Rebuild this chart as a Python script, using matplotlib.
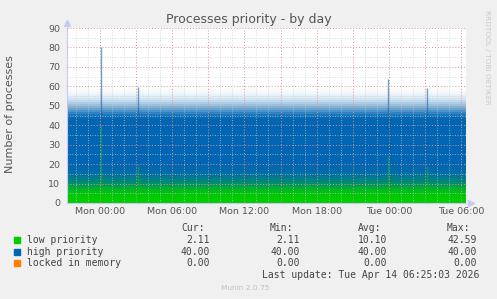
# -*- coding: utf-8 -*-

import numpy as np
import matplotlib.pyplot as plt
from matplotlib.patches import Rectangle

# hours relative to Mon 00:00
t_start = -2.75
t_end = 30.42
tick_hours = [0, 6, 12, 18, 24, 30]
tick_labels = ['Mon 00:00', 'Mon 06:00', 'Mon 12:00', 'Mon 18:00', 'Tue 00:00', 'Tue 06:00']

# low priority jumps around all day: level -> share of time above that level
low_levels = [2.11, 3, 4, 5, 6, 7, 8, 9, 10, 11, 12, 13, 14, 15, 16, 17, 18, 19, 20]
low_share = [1.0, 0.99, 0.97, 0.93, 0.86, 0.76, 0.65, 0.55, 0.45, 0.36, 0.28,
             0.21, 0.15, 0.1, 0.07, 0.04, 0.02, 0.01, 0.0]
high_value = 40.0

# short spikes of low priority processes
spike_hours = [0.05, 3.15, 23.97, 27.18]
spike_low = [40.0, 19.5, 24.0, 19.0]

series = ['low priority', 'high priority', 'locked in memory']
colors = ['#00cc00', '#0066b3', '#ff8000']
cur = ['2.11', '40.00', '0.00']
mins = ['2.11', '40.00', '0.00']
avgs = ['10.10', '40.00', '0.00']
maxs = ['42.59', '40.00', '0.00']

fig = plt.figure(figsize=(4.97, 2.99), dpi=100)
fig.patch.set_facecolor('#f0f0f0')
ax = fig.add_axes([67/497, 1-203/299, 399/497, 175/299])
ax.set_facecolor('white')

green, blue = colors[0], colors[1]
xs = [t_start, t_end]

# solid parts of the stack
ax.fill_between(xs, 0, low_levels[0], color=green, lw=0)
ax.fill_between(xs, low_levels[0], low_levels[0] + high_value, color=blue, lw=0)

# fuzzy edges: green mixed into blue, blue mixed into white
for i in range(len(low_levels) - 1):
    p = (low_share[i] + low_share[i+1]) / 2
    y0, y1 = low_levels[i], low_levels[i+1]
    ax.fill_between(xs, y0, y1, color=green, alpha=p, lw=0)
    ax.fill_between(xs, y0 + high_value, y1 + high_value, color=blue, alpha=p, lw=0)

# spikes
ax.vlines(spike_hours, 0, spike_low, color=green, lw=1.0, alpha=0.5)
ax.vlines(spike_hours, spike_low, np.array(spike_low) + high_value, color=blue, lw=1.0, alpha=0.6)

ax.set_xlim(t_start, t_end)
ax.set_ylim(0, 90)

ax.set_xticks(tick_hours)
ax.set_xticklabels(tick_labels)
ax.set_yticks(np.arange(0, 91, 10))
ax.tick_params(axis='both', which='both', length=0, labelsize=6.8, labelcolor='#555555')
ax.tick_params(axis='y', pad=5)
ax.tick_params(axis='x', pad=3)

# grid on top of the areas like rrdtool does
for v in np.arange(-2, 31, 1):
    if v % 3 == 0:
        ax.axvline(v, color='#e09090', lw=0.7, ls=(0, (1, 2)), zorder=3)
    else:
        ax.axvline(v, color='#cccccc', lw=0.6, ls=(0, (1, 2)), alpha=0.9, zorder=3)
for v in np.arange(5, 91, 5):
    if v % 10 == 0:
        ax.axhline(v, color='#e09090', lw=0.7, ls=(0, (1, 2)), zorder=3)
    else:
        ax.axhline(v, color='#cccccc', lw=0.6, ls=(0, (1, 2)), alpha=0.9, zorder=3)

for s in ['top', 'right']:
    ax.spines[s].set_visible(False)
for s in ['left', 'bottom']:
    ax.spines[s].set_color('#c8c8f0')
    ax.spines[s].set_linewidth(0.8)
ax.plot([0], [1.03], marker='^', ms=4, color='#c8c8f0', transform=ax.transAxes, clip_on=False)
ax.plot([1.013], [0], marker='>', ms=4, color='#c8c8f0', transform=ax.transAxes, clip_on=False)

fig.text(0.5, 1-19/299, 'Processes priority - by day', ha='center', va='center',
         fontsize=9, color='#555555')
fig.text(10/497, 1-114/299, 'Number of processes', rotation=90, ha='center', va='center',
         fontsize=8, color='#555555')
fig.text(487/497, 1-57/299, 'RRDTOOL / TOBI OETIKER', rotation=270, ha='center', va='center',
         fontsize=5.3, color='#c8c8c8')

# legend block
mono = 'DejaVu Sans Mono'
tc = '#444444'
fs = 7
fig.text(181/497, 1-228/299, 'Cur:', family=mono, fontsize=fs, color=tc, va='center')
fig.text(270/497, 1-228/299, 'Min:', family=mono, fontsize=fs, color=tc, va='center')
fig.text(358/497, 1-228/299, 'Avg:', family=mono, fontsize=fs, color=tc, va='center')
fig.text(447/497, 1-228/299, 'Max:', family=mono, fontsize=fs, color=tc, va='center')
rows_y = [240, 252, 263]
for i in range(3):
    y = 1 - rows_y[i]/299
    fig.patches.append(Rectangle((14/497, y - 3/299), 6/497, 6/299, color=colors[i],
                                 transform=fig.transFigure, figure=fig))
    fig.text(27/497, y, series[i], family=mono, fontsize=fs, color=tc, va='center')
    fig.text(210/497, y, cur[i], family=mono, fontsize=fs, color=tc, va='center', ha='right')
    fig.text(300/497, y, mins[i], family=mono, fontsize=fs, color=tc, va='center', ha='right')
    fig.text(387/497, y, avgs[i], family=mono, fontsize=fs, color=tc, va='center', ha='right')
    fig.text(477/497, y, maxs[i], family=mono, fontsize=fs, color=tc, va='center', ha='right')

fig.text(262/497, 1-275/299, 'Last update: Tue Apr 14 06:25:03 2026', family=mono,
         fontsize=fs, color=tc, va='center')
fig.text(245/497, 1-288/299, 'Munin 2.0.75', ha='center', va='center', fontsize=5.3,
         color='#c0c0c0')

plt.savefig('out.png', dpi=100, facecolor=fig.get_facecolor())
